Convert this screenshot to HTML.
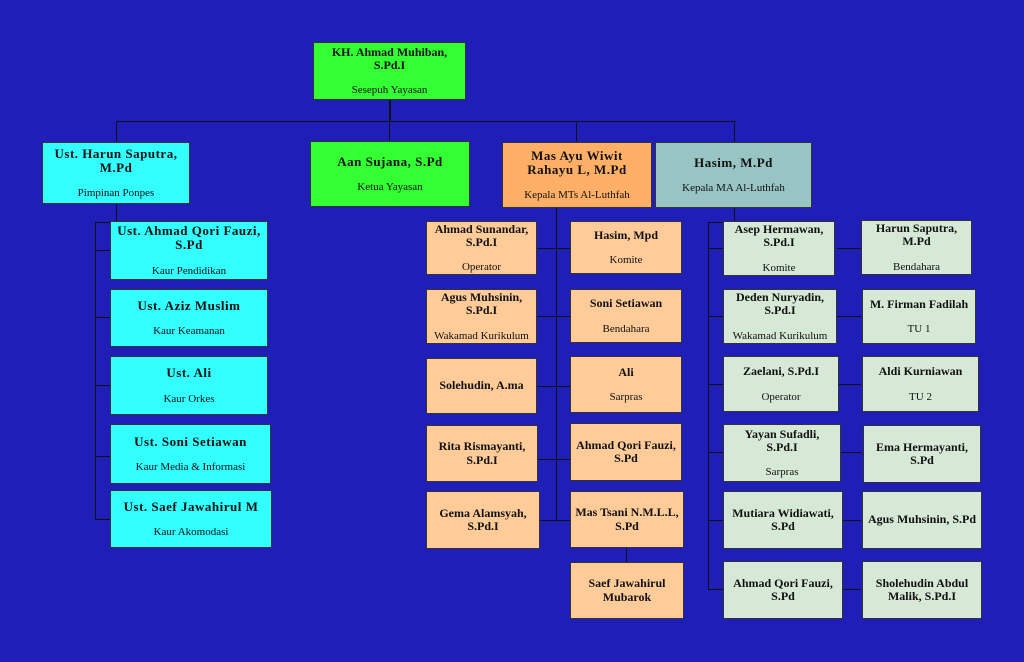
<!DOCTYPE html><html><head><meta charset="utf-8"><style>
body{margin:0;width:1024px;height:662px;background:#1f1fb8;position:relative;overflow:hidden;font-family:"Liberation Serif",serif;}
.b{position:absolute;box-sizing:border-box;border:1px solid #333;display:flex;flex-direction:column;justify-content:center;align-items:center;text-align:center;color:#111;line-height:1.1;}
.b b{font-size:12px;}
.b span{font-size:11px;margin-top:12px;}
.big b{font-size:13px;letter-spacing:.5px}
.g{background:#33ff33}.c{background:#33ffff}.o{background:#ffb066}.t{background:#99c4c4}.p{background:#ffcc99}.m{background:#d6e8d6}
.l{position:absolute;background:#111;}
</style></head><body>
<!-- lines -->
<div class="l" style="left:389px;top:100px;width:2px;height:22px"></div>
<div class="l" style="left:116px;top:121px;width:620px;height:1px"></div>
<div class="l" style="left:116px;top:121px;width:1px;height:21px"></div>
<div class="l" style="left:389px;top:121px;width:1px;height:20px"></div>
<div class="l" style="left:576px;top:121px;width:1px;height:21px"></div>
<div class="l" style="left:734px;top:121px;width:1px;height:21px"></div>
<div class="l" style="left:116px;top:204px;width:1px;height:18px"></div>
<div class="l" style="left:95px;top:222px;width:1px;height:298px"></div>
<div class="l" style="left:95px;top:222px;width:15px;height:1px"></div>
<div class="l" style="left:95px;top:250px;width:15px;height:1px"></div>
<div class="l" style="left:95px;top:317px;width:15px;height:1px"></div>
<div class="l" style="left:95px;top:385px;width:15px;height:1px"></div>
<div class="l" style="left:95px;top:456px;width:15px;height:1px"></div>
<div class="l" style="left:95px;top:519px;width:15px;height:1px"></div>
<div class="l" style="left:556px;top:208px;width:1px;height:313px"></div>
<div class="l" style="left:537px;top:248px;width:33px;height:1px"></div>
<div class="l" style="left:537px;top:316px;width:33px;height:1px"></div>
<div class="l" style="left:537px;top:386px;width:33px;height:1px"></div>
<div class="l" style="left:537px;top:459px;width:33px;height:1px"></div>
<div class="l" style="left:537px;top:520px;width:33px;height:1px"></div>
<div class="l" style="left:626px;top:548px;width:1px;height:14px"></div>
<div class="l" style="left:734px;top:208px;width:1px;height:14px"></div>
<div class="l" style="left:708px;top:222px;width:1px;height:368px"></div>
<div class="l" style="left:708px;top:222px;width:15px;height:1px"></div>
<div class="l" style="left:708px;top:248px;width:15px;height:1px"></div>
<div class="l" style="left:708px;top:316px;width:15px;height:1px"></div>
<div class="l" style="left:708px;top:384px;width:15px;height:1px"></div>
<div class="l" style="left:708px;top:452px;width:15px;height:1px"></div>
<div class="l" style="left:708px;top:520px;width:15px;height:1px"></div>
<div class="l" style="left:708px;top:589px;width:15px;height:1px"></div>
<div class="l" style="left:837px;top:248px;width:24px;height:1px"></div>
<div class="l" style="left:837px;top:316px;width:24px;height:1px"></div>
<div class="l" style="left:837px;top:384px;width:24px;height:1px"></div>
<div class="l" style="left:837px;top:452px;width:24px;height:1px"></div>
<div class="l" style="left:837px;top:520px;width:24px;height:1px"></div>
<div class="l" style="left:837px;top:589px;width:24px;height:1px"></div>
<!-- top -->
<div class="b g" style="left:313px;top:42px;width:153px;height:58px"><b>KH. Ahmad Muhiban,<br>S.Pd.I</b><span>Sesepuh Yayasan</span></div>
<div class="b c big" style="left:42px;top:142px;width:148px;height:62px"><b>Ust. Harun Saputra,<br>M.Pd</b><span>Pimpinan Ponpes</span></div>
<div class="b g big" style="left:310px;top:141px;width:160px;height:66px"><b>Aan Sujana, S.Pd</b><span>Ketua Yayasan</span></div>
<div class="b o big" style="left:502px;top:142px;width:150px;height:66px"><b>Mas Ayu Wiwit<br>Rahayu L, M.Pd</b><span>Kepala MTs Al-Luthfah</span></div>
<div class="b t big" style="left:655px;top:142px;width:157px;height:66px"><b>Hasim, M.Pd</b><span>Kepala MA Al-Luthfah</span></div>
<!-- cyan column -->
<div class="b c big" style="left:110px;top:221px;width:158px;height:59px"><b>Ust. Ahmad Qori Fauzi,<br>S.Pd</b><span>Kaur Pendidikan</span></div>
<div class="b c big" style="left:110px;top:289px;width:158px;height:58px"><b>Ust. Aziz Muslim</b><span>Kaur Keamanan</span></div>
<div class="b c big" style="left:110px;top:356px;width:158px;height:59px"><b>Ust. Ali</b><span>Kaur Orkes</span></div>
<div class="b c big" style="left:110px;top:424px;width:161px;height:60px"><b>Ust. Soni Setiawan</b><span>Kaur Media &amp; Informasi</span></div>
<div class="b c big" style="left:110px;top:490px;width:162px;height:58px"><b>Ust. Saef Jawahirul M</b><span>Kaur Akomodasi</span></div>
<!-- MTs -->
<div class="b p" style="left:426px;top:221px;width:111px;height:54px"><b>Ahmad Sunandar,<br>S.Pd.I</b><span>Operator</span></div>
<div class="b p" style="left:426px;top:289px;width:111px;height:55px"><b>Agus Muhsinin,<br>S.Pd.I</b><span>Wakamad Kurikulum</span></div>
<div class="b p" style="left:426px;top:358px;width:111px;height:56px"><b>Solehudin, A.ma</b></div>
<div class="b p" style="left:426px;top:425px;width:112px;height:57px"><b>Rita Rismayanti,<br>S.Pd.I</b></div>
<div class="b p" style="left:426px;top:491px;width:114px;height:58px"><b>Gema Alamsyah,<br>S.Pd.I</b></div>
<div class="b p" style="left:570px;top:221px;width:112px;height:53px"><b>Hasim, Mpd</b><span>Komite</span></div>
<div class="b p" style="left:570px;top:289px;width:112px;height:54px"><b>Soni Setiawan</b><span>Bendahara</span></div>
<div class="b p" style="left:570px;top:356px;width:112px;height:57px"><b>Ali</b><span>Sarpras</span></div>
<div class="b p" style="left:570px;top:423px;width:112px;height:58px"><b>Ahmad Qori Fauzi,<br>S.Pd</b></div>
<div class="b p" style="left:570px;top:491px;width:114px;height:57px"><b>Mas Tsani N.M.L.L,<br>S.Pd</b></div>
<div class="b p" style="left:570px;top:562px;width:114px;height:57px"><b>Saef Jawahirul<br>Mubarok</b></div>
<!-- MA -->
<div class="b m" style="left:723px;top:221px;width:112px;height:55px"><b>Asep Hermawan,<br>S.Pd.I</b><span>Komite</span></div>
<div class="b m" style="left:723px;top:289px;width:114px;height:55px"><b>Deden Nuryadin,<br>S.Pd.I</b><span>Wakamad Kurikulum</span></div>
<div class="b m" style="left:723px;top:356px;width:116px;height:56px"><b>Zaelani, S.Pd.I</b><span>Operator</span></div>
<div class="b m" style="left:723px;top:424px;width:118px;height:58px"><b>Yayan Sufadli,<br>S.Pd.I</b><span>Sarpras</span></div>
<div class="b m" style="left:723px;top:491px;width:120px;height:58px"><b>Mutiara Widiawati,<br>S.Pd</b></div>
<div class="b m" style="left:723px;top:561px;width:120px;height:58px"><b>Ahmad Qori Fauzi,<br>S.Pd</b></div>
<div class="b m" style="left:861px;top:220px;width:111px;height:55px"><b>Harun Saputra,<br>M.Pd</b><span>Bendahara</span></div>
<div class="b m" style="left:862px;top:289px;width:114px;height:55px"><b>M. Firman Fadilah</b><span>TU 1</span></div>
<div class="b m" style="left:862px;top:356px;width:117px;height:56px"><b>Aldi Kurniawan</b><span>TU 2</span></div>
<div class="b m" style="left:863px;top:425px;width:118px;height:58px"><b>Ema Hermayanti,<br>S.Pd</b></div>
<div class="b m" style="left:862px;top:491px;width:120px;height:58px"><b>Agus Muhsinin, S.Pd</b></div>
<div class="b m" style="left:862px;top:561px;width:120px;height:58px"><b>Sholehudin Abdul<br>Malik, S.Pd.I</b></div>
</body></html>
